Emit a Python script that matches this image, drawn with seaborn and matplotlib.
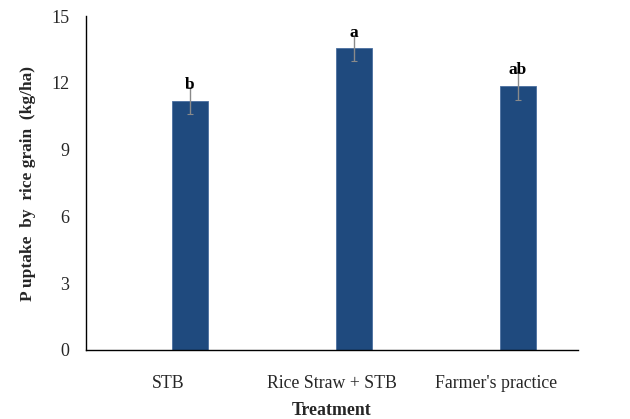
import matplotlib
matplotlib.use("Agg")
import matplotlib.pyplot as plt
import seaborn as sns
import pandas as pd
import numpy as np

# Phosphorus uptake by rice grain per treatment
treatments = ["STB", "Rice Straw + STB", "Farmer's practice"]
uptake = [11.2, 13.57, 11.87]
std_err = [0.62, 0.58, 0.62]
letters = ["b", "a", "ab"]
y_ticks = [0, 3, 6, 9, 12, 15]

df = pd.DataFrame({"Treatment": treatments, "Uptake": uptake})

sns.set_style("white")
plt.rcParams["font.family"] = ["Liberation Serif", "DejaVu Serif"]

fig = plt.figure(figsize=(6.3, 4.19), dpi=100)
ax = fig.add_axes([0.1365, 0.1647, 0.781, 0.797])

bar_w = 0.22
shift = 0.134
sns.barplot(data=df, x="Treatment", y="Uptake", color="#1f4a7e",
            width=bar_w, errorbar=None, saturation=1, ax=ax,
            edgecolor="#4a6fa0", linewidth=0.6)

# bars sit to the right of the category centre
centres = []
for p in ax.patches:
    p.set_x(p.get_x() + shift)
    centres.append(p.get_x() + p.get_width() / 2)

ax.errorbar(centres, uptake, yerr=std_err, fmt="none", ecolor="#8a8a8a",
            elinewidth=1.0, capsize=2, capthick=0.8, zorder=3)

for x, v, e, lab in zip(centres, uptake, std_err, letters):
    ax.annotate(lab, (x, v + e), xytext=(0, 1.5), textcoords="offset points",
                ha="center", va="center", fontsize=12.5, fontweight="bold",
                color="black", zorder=4)

ax.set_xlim(-0.5, 2.5)
ax.set_ylim(0, 15)
ax.set_yticks(y_ticks)
ax.set_yticklabels([str(t) for t in y_ticks], fontsize=13)

# category labels at centres, tick marks at category boundaries
ax.set_xticks(range(len(treatments)))
ax.set_xticklabels(treatments, fontsize=12.8)
ax.tick_params(axis="x", which="major", length=0, pad=18)
ax.set_xticks([-0.5, 0.5, 1.5, 2.5], minor=True)
ax.tick_params(axis="x", which="minor", length=4, width=1, direction="out",
               color="black")
ax.tick_params(axis="y", length=4, width=1, direction="out", color="black",
               pad=8)

ax.set_xlabel("Treatment", fontsize=12.8, fontweight="bold", labelpad=7)
ax.set_ylabel("P uptake  by  rice grain  (kg/ha)", fontsize=12.5,
              fontweight="bold", labelpad=11)

for s in ["top", "right"]:
    ax.spines[s].set_visible(False)
for s in ["left", "bottom"]:
    ax.spines[s].set_color("black")
    ax.spines[s].set_linewidth(1.0)

fig.savefig("out.png", dpi=100, facecolor="white")
